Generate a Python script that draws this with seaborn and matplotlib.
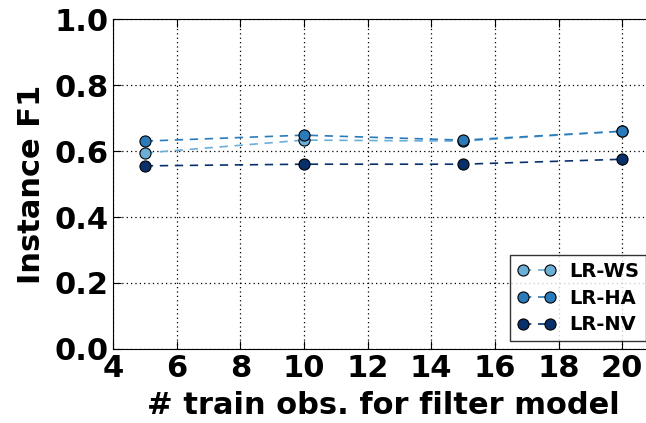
import matplotlib
matplotlib.use("Agg")
import matplotlib.pyplot as plt
import seaborn as sns
import pandas as pd

train_obs = [5, 10, 15, 20]
lr_ws = [0.594, 0.633, 0.630, 0.660]
lr_ha = [0.630, 0.648, 0.633, 0.660]
lr_nv = [0.555, 0.560, 0.560, 0.575]
series_names = ["LR-WS", "LR-HA", "LR-NV"]
colors = ["#6baed6", "#2b7bba", "#08306b"]

sns.set_style("ticks")
plt.rcParams['font.family'] = ['DejaVu Sans']
plt.rcParams['font.weight'] = 'bold'
plt.rcParams['text.color'] = 'black'
plt.rcParams['axes.labelcolor'] = 'black'
plt.rcParams['xtick.color'] = 'black'
plt.rcParams['ytick.color'] = 'black'

df = pd.DataFrame({
    "x": train_obs * 3,
    "y": lr_ws + lr_ha + lr_nv,
    "s": sum([[n] * 4 for n in series_names], []),
})

fig = plt.figure(figsize=(6.46, 4.23), dpi=100)
ax = fig.add_axes([113/646, 1 - 349/423, (654 - 113)/646, (349 - 19)/423])
for name, c in zip(series_names, colors):
    d = df[df.s == name]
    sns.lineplot(data=d, x="x", y="y", ax=ax, color=c, marker="o",
                 markersize=8, markeredgecolor="black", markeredgewidth=0.8,
                 label=name, linewidth=1.2)
    ax.lines[-1].set_linestyle((0, (5, 4)))

ax.set_xlim(4, 21)
ax.set_ylim(0, 1.0)
ax.set_xticks([4, 6, 8, 10, 12, 14, 16, 18, 20])
ax.set_yticks([0.0, 0.2, 0.4, 0.6, 0.8, 1.0])
ax.set_yticklabels(["0.0", "0.2", "0.4", "0.6", "0.8", "1.0"])
ax.grid(True, linestyle=(0, (1, 2.5)), color="black", linewidth=0.9)
for sp in ax.spines.values():
    sp.set_visible(True)
    sp.set_color("black")
ax.tick_params(direction="in", labelsize=22, length=6, width=0.8, top=True, right=True,
               colors="black")
for lab in ax.get_xticklabels() + ax.get_yticklabels():
    lab.set_fontweight("bold")
ax.set_xlabel("# train obs. for filter model", fontsize=22, fontweight="bold", labelpad=6)
ax.set_ylabel("Instance F1", fontsize=22, fontweight="bold", labelpad=6)
leg = ax.legend(loc="lower right", numpoints=2, prop={"weight": "bold", "size": 14},
                frameon=True, fancybox=False, edgecolor="black", handlelength=2,
                borderaxespad=0.4, labelspacing=0.4, borderpad=0.35, handletextpad=0.7)
leg.get_frame().set_linewidth(1.0)
fig.savefig("out.png", dpi=100)
